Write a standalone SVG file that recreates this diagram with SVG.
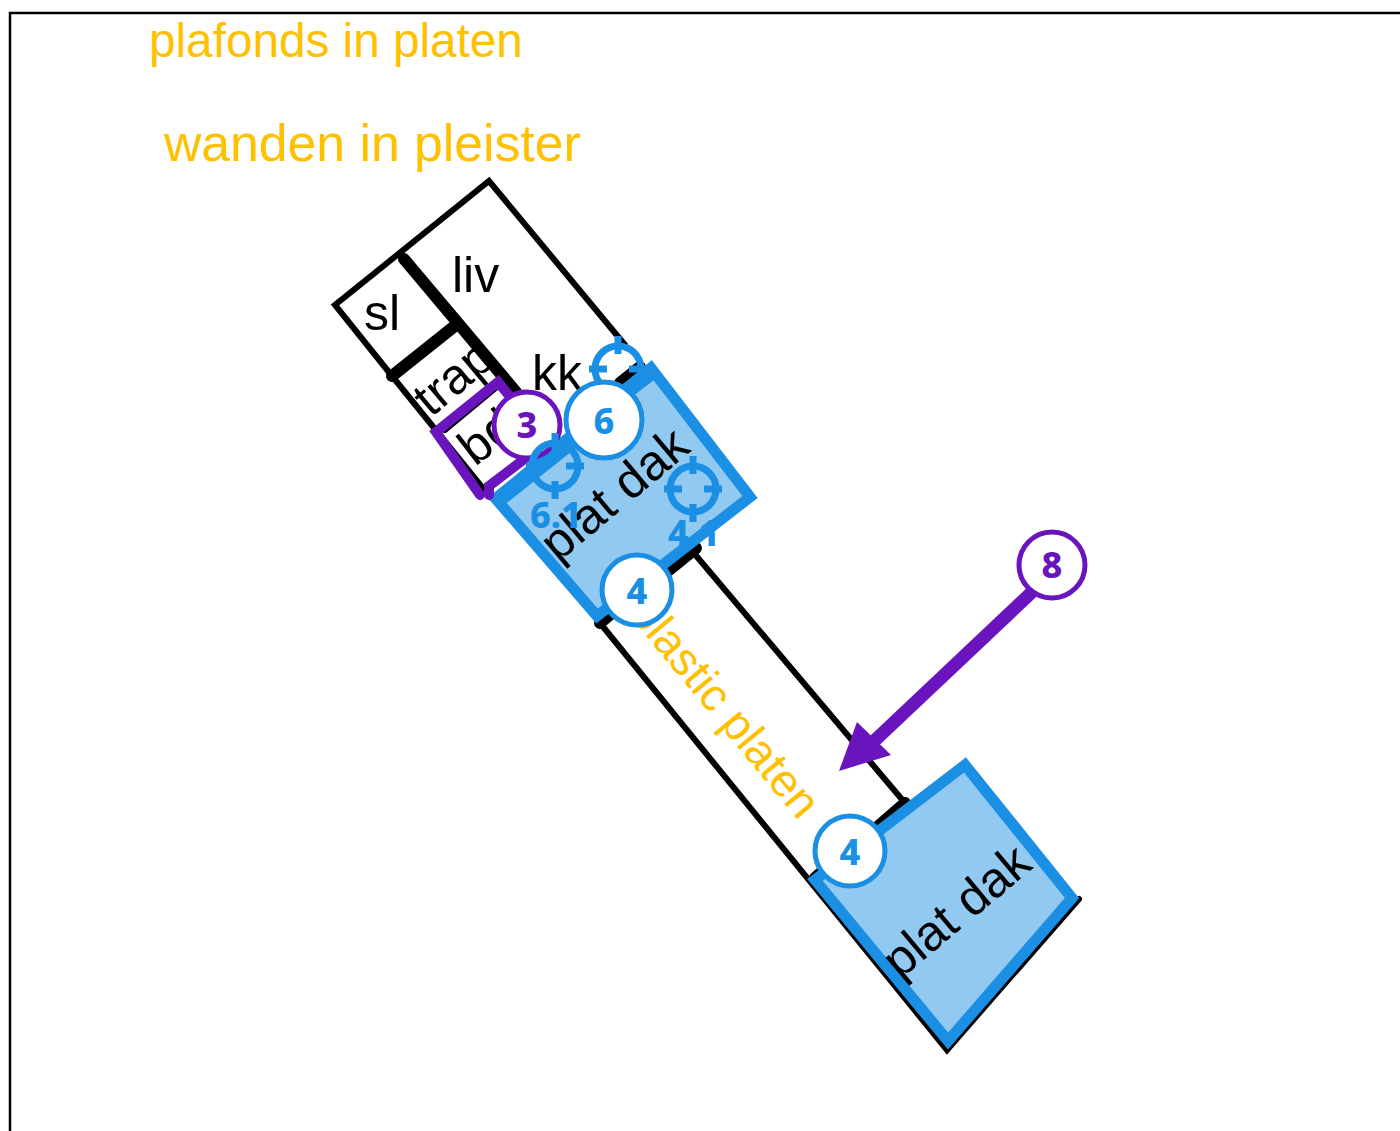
<svg xmlns="http://www.w3.org/2000/svg" width="1400" height="1131" viewBox="0 0 1400 1131">
<style>
.t{font-family:"Liberation Sans",Arial,sans-serif;fill:#000;font-size:50px}
.y{font-family:"Liberation Sans",Arial,sans-serif;fill:#ffc000}
.w{fill:none;stroke:#000;stroke-width:6;stroke-linecap:round;stroke-linejoin:miter}
.h{fill:none;stroke:#000;stroke-width:12;stroke-linecap:round}
.r{fill:#92c9f1;stroke:#1b8fe3;stroke-width:11;stroke-linejoin:miter}
.b{fill:none;stroke:#1b8fe3;stroke-linecap:butt}
.p{fill:none;stroke:#6a14bd;stroke-width:10;stroke-linecap:round;stroke-linejoin:miter}
.c{fill:#fff;stroke-width:5}
.n{font-family:"Noto Sans","Open Sans",sans-serif;font-weight:800;text-anchor:middle;font-size:36px}
</style>
<defs>
<g id="target"><circle r="23" fill="none" stroke="#1b8fe3" stroke-width="7"/><path d="M0-33V-15M0 15V33M-29 0H-11M11 0H29" stroke="#1b8fe3" stroke-width="7" fill="none"/></g>
</defs>
<g id="frame"><path d="M10 1131V13H1400" fill="none" stroke="#000" stroke-width="2.5"/></g>
<g id="connectors">
<path class="w" d="M625 345L489 181L335 305L392 376L490 497"/>
<path class="w" d="M693 552L905 803"/>
<path class="w" d="M600 623L947 1050L1079 899"/>
<path class="h" d="M404 259L516 392"/>
<path class="h" d="M392 376L456 325"/>
<path class="w" d="M445 430L498 386"/>
<path class="h" d="M669 570L696 548"/>
<path class="h" d="M600 623L612 613"/>
<path class="h" d="M874 830L905 803"/>
<path class="h" d="M815 878L824 870"/>
<path class="h" d="M620 383L640 367"/>
</g>
<g id="room-labels">
<text class="t" x="452" y="292">liv</text>
<text class="t" x="364" y="330">sl</text>
<text class="t" x="532" y="390">kk</text>
<text class="t" transform="translate(431 418) rotate(-40)">trap</text>
<text class="t" transform="translate(475 467) rotate(-38)">bd</text>
</g>
<g id="titles">
<text class="y" x="149" y="57" font-size="47.7">plafonds in platen</text>
<text class="y" x="164" y="161" font-size="51.7">wanden in pleister</text>
<text class="y" font-size="46" transform="translate(628 614) rotate(50.5)">plastic platen</text>
</g>
<g id="roof-upper">
<path class="r" d="M651 368L750 497L597 616L496 499Z"/>
<path class="b" stroke-width="16" d="M495 502L572 441M628 390L654 370"/>
<text class="t" font-size="52" transform="translate(558 563) rotate(-40)">plat dak</text>
</g>
<g id="roof-lower">
<path class="r" d="M965 765L1072 898L948 1041L815 880Z"/>
<text class="t" font-size="52" transform="translate(900 980) rotate(-40)">plat dak</text>
</g>
<g id="purple-room">
<path class="p" d="M480 495L436 432L498 382L516 404"/>
<path class="p" d="M489 495L489 486L552 438"/>
</g>
<g id="marker-3"><circle class="c" cx="527" cy="425" r="33" stroke="#6a14bd"/><text class="n" x="527" y="438" fill="#6a14bd">3</text></g>
<g id="target-6-1"><use href="#target" x="555" y="466"/><text class="n" x="556" y="528" font-size="30" fill="#1b8fe3">6.1</text></g>
<g id="target-6-top"><use href="#target" x="618" y="369"/></g>
<g id="target-4-1"><use href="#target" x="693" y="489"/><text class="n" x="694" y="546" font-size="30" fill="#1b8fe3">4.1</text></g>
<g id="marker-6"><circle class="c" cx="604" cy="420" r="38" stroke="#1b8fe3"/><text class="n" x="604" y="434" fill="#1b8fe3">6</text></g>
<g id="marker-4a"><circle class="c" cx="637" cy="590" r="35" stroke="#1b8fe3"/><text class="n" x="637" y="604" fill="#1b8fe3">4</text></g>
<g id="marker-4b"><circle class="c" cx="850" cy="851" r="35" stroke="#1b8fe3"/><text class="n" x="850" y="865" fill="#1b8fe3">4</text></g>
<g id="arrow-8">
<path d="M1032 592L870 745" stroke="#6a14bd" stroke-width="13" fill="none"/>
<path d="M839 771L857 722L891 755Z" fill="#6a14bd"/>
<circle class="c" cx="1052" cy="565" r="33" stroke="#6a14bd"/><text class="n" x="1052" y="578" fill="#6a14bd">8</text>
</g>
</svg>
